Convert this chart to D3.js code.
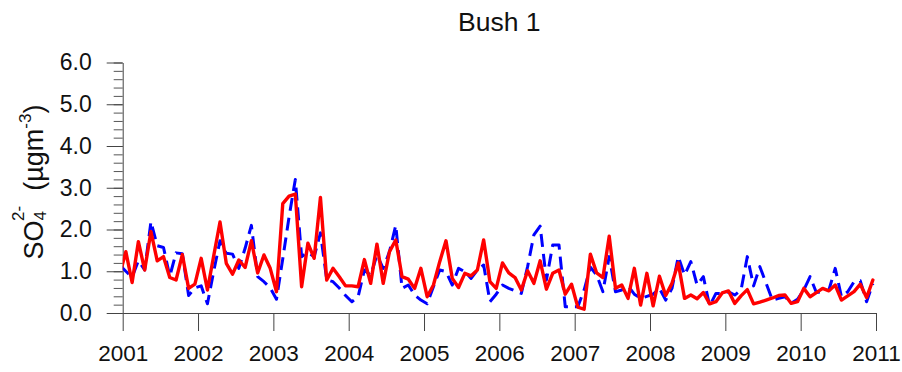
<!DOCTYPE html>
<html>
<head>
<meta charset="utf-8">
<script src="https://cdn.jsdelivr.net/npm/d3@7"></script>
<style>
  body { margin: 0; background: #fff; }
  svg { display: block; }
</style>
</head>
<body>
<svg id="chart"></svg>
<script>
const chartTitle = "Bush 1";
const yearTicks = [2001, 2002, 2003, 2004, 2005, 2006, 2007, 2008, 2009, 2010, 2011];
const yTicks = [0, 1, 2, 3, 4, 5, 6];

// monthly means, Dec 2000 .. Dec 2010 (first month sits just left of the axis)
const redSeries = [0.90,
  1.47, 0.73, 1.71, 1.03, 1.95, 1.25, 1.35, 0.85, 0.79, 1.40, 0.59, 0.69,
  1.31, 0.55, 1.37, 2.18, 1.19, 0.93, 1.27, 1.09, 1.73, 0.96, 1.39, 1.07,
  0.51, 2.62, 2.80, 2.85, 0.63, 1.67, 1.31, 2.77, 0.79, 1.07, 0.87, 0.65,
  0.65, 0.63, 1.28, 0.71, 1.65, 0.71, 1.47, 1.75, 0.87, 0.81, 0.59, 1.07,
  0.39, 0.67, 1.23, 1.73, 0.83, 0.61, 0.95, 0.89, 1.03, 1.75, 0.75, 0.59,
  1.20, 0.96, 0.85, 0.55, 1.01, 0.71, 1.25, 0.57, 0.95, 1.03, 0.45, 0.69,
  0.14, 0.09, 1.41, 0.96, 0.85, 1.84, 0.59, 0.67, 0.35, 1.07, 0.19, 0.95,
  0.17, 0.88, 0.42, 0.71, 1.20, 0.35, 0.43, 0.34, 0.49, 0.22, 0.27, 0.48,
  0.53, 0.23, 0.41, 0.56, 0.22, 0.26, 0.31, 0.36, 0.42, 0.43, 0.23, 0.27,
  0.59, 0.39, 0.49, 0.59, 0.53, 0.67, 0.31, 0.41, 0.51, 0.69, 0.37, 0.79];

const blueSeries = [1.15,
  1.00, 0.86, 1.25, 1.03, 2.19, 1.61, 1.57, 0.88, 1.44, 1.42, 0.42, 0.60,
  0.65, 0.22, 1.00, 1.73, 1.43, 1.41, 1.07, 1.55, 2.10, 0.87, 0.75, 0.60,
  0.33, 1.30, 2.30, 3.20, 1.35, 1.45, 1.35, 1.92, 0.80, 0.75, 0.60, 0.42,
  0.27, 0.39, 1.03, 0.90, 1.39, 1.07, 1.47, 2.10, 0.59, 0.67, 0.43, 0.31,
  0.22, 0.63, 1.03, 0.99, 0.67, 1.07, 0.99, 0.83, 1.03, 1.15, 0.27, 0.45,
  0.67, 0.59, 0.53, 0.47, 1.11, 1.87, 2.08, 0.79, 1.63, 1.63, 0.15, 0.15,
  0.15, 0.55, 1.10, 0.91, 0.51, 1.35, 0.51, 0.55, 0.65, 0.45, 0.35, 0.40,
  0.45, 0.59, 0.31, 0.59, 1.35, 0.91, 1.23, 0.67, 0.87, 0.17, 0.47, 0.47,
  0.51, 0.43, 0.55, 1.35, 0.65, 1.11, 0.71, 0.31, 0.35, 0.39, 0.23, 0.33,
  0.55, 0.87, 0.49, 0.51, 0.55, 1.07, 0.39, 0.51, 0.75, 0.77, 0.27, 0.70];

const svgWidth = 902, svgHeight = 372;
const margin = { top: 62.5, right: 26, bottom: 59, left: 122.7 };
const width = svgWidth - margin.left - margin.right;
const height = svgHeight - margin.top - margin.bottom;
const font = "'Liberation Sans', Arial, Helvetica, sans-serif";

const svg = d3.select("#chart")
  .attr("width", svgWidth)
  .attr("height", svgHeight);

const g = svg.append("g")
  .attr("transform", "translate(" + margin.left + "," + margin.top + ")");

const x = d3.scaleLinear().domain([2001, 2011]).range([0, width]);
const y = d3.scaleLinear().domain([0, 6]).range([height, 0]);

// month k of the arrays is centred in its month, index 0 = Dec 2000
const monthTime = i => 2001 + (i - 0.5) / 12;

g.append("clipPath").attr("id", "plotClip")
  .append("rect")
  .attr("x", 0).attr("y", -10)
  .attr("width", width).attr("height", height + 20);

// minor y ticks
g.append("g")
  .call(d3.axisLeft(y).tickValues(d3.range(0, 6.01, 0.2)).tickSize(9).tickFormat(""))
  .call(a => a.select(".domain").remove())
  .selectAll("line").attr("stroke", "#555");

// major y ticks + labels
const yAxis = g.append("g")
  .call(d3.axisLeft(y).tickValues(yTicks).tickSize(16).tickSizeOuter(0).tickPadding(15)
    .tickFormat(d3.format(".1f")));
yAxis.select(".domain").attr("stroke", "#444");
yAxis.selectAll("line").attr("stroke", "#444");
yAxis.selectAll("text")
  .attr("font-family", font).attr("font-size", 23).attr("fill", "#111");

const xAxis = g.append("g")
  .attr("transform", "translate(0," + height + ")")
  .call(d3.axisBottom(x).tickValues(yearTicks).tickSize(18).tickSizeOuter(0).tickPadding(14)
    .tickFormat(d3.format("d")));
xAxis.select(".domain").attr("stroke", "#444");
xAxis.selectAll("line").attr("stroke", "#444");
xAxis.selectAll("text")
  .attr("font-family", font).attr("font-size", 22.5).attr("fill", "#111");

const line = d3.line()
  .x((d, i) => x(monthTime(i)))
  .y(d => y(d));

const plot = g.append("g").attr("clip-path", "url(#plotClip)");

plot.append("path")
  .datum(blueSeries)
  .attr("fill", "none")
  .attr("stroke", "#0000ff")
  .attr("stroke-width", 3)
  .attr("stroke-dasharray", "13,7")
  .attr("stroke-linejoin", "round")
  .attr("d", line);

plot.append("path")
  .datum(redSeries)
  .attr("fill", "none")
  .attr("stroke", "#ff0000")
  .attr("stroke-width", 3.4)
  .attr("stroke-linejoin", "round")
  .attr("stroke-linecap", "round")
  .attr("d", line);

svg.append("text")
  .attr("x", margin.left + width / 2)
  .attr("y", 31)
  .attr("text-anchor", "middle")
  .attr("font-family", font)
  .attr("font-size", 26.5)
  .attr("fill", "#111")
  .text(chartTitle);

// y axis title: SO4 2- (μgm-3)
const yTitle = svg.append("text")
  .attr("transform", "translate(43,182) rotate(-90)")
  .attr("text-anchor", "middle")
  .attr("font-family", font)
  .attr("font-size", 27)
  .attr("fill", "#111");
yTitle.append("tspan").text("SO");
yTitle.append("tspan").attr("font-size", 17).attr("dy", 3).text("4");
yTitle.append("tspan").attr("font-size", 17).attr("dx", -10).attr("dy", -22).text("2-");
yTitle.append("tspan").attr("dy", 19).text("\u00a0\u00a0(\u00b5gm");
yTitle.append("tspan").attr("font-size", 17).attr("dy", -12).text("-3");
yTitle.append("tspan").attr("dy", 12).text(")");
</script>
</body>
</html>
